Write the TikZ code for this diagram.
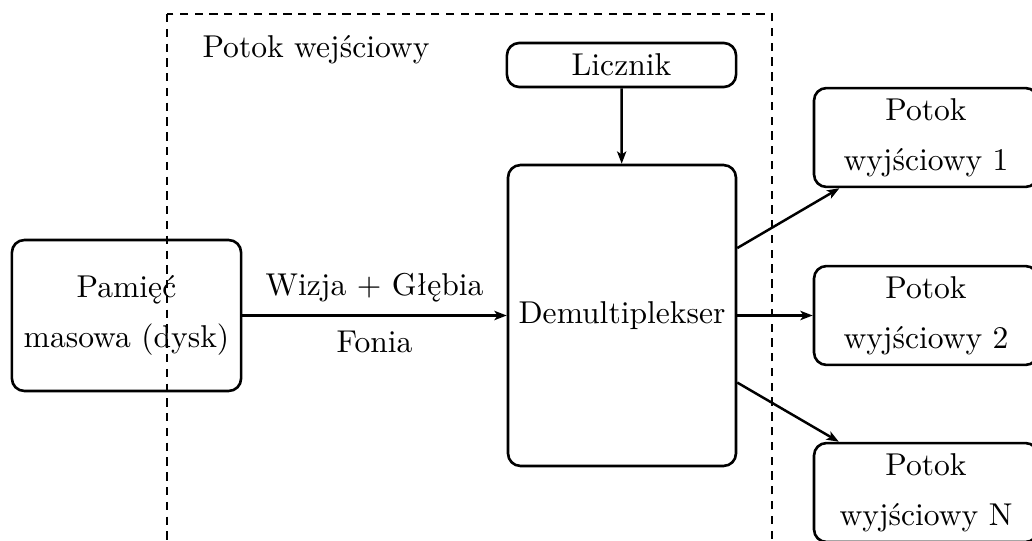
\documentclass[tikz,border=0pt]{standalone}
\usepackage{fontspec}
\usetikzlibrary{arrows.meta}
\begin{document}
\begin{tikzpicture}[x=0.3247pt,y=-0.3247pt,
  font=\fontsize{10.25pt}{12.3pt}\selectfont,
  box/.style={draw, line width=0.85pt, rounded corners=4pt, align=center, inner sep=0pt},
  conn/.style={thick, -{Stealth[length=4pt,width=3pt,inset=1pt]}}]
\useasboundingbox (0,0) rectangle (1032,541);

% input stream frame
\draw[line width=0.75pt, dash pattern=on 2.7pt off 2.1pt] (167,14) rectangle (772,580);
\node (instream) at (316,50) {Potok wejściowy};

% blocks
\node[box, minimum width=74.4pt, minimum height=49pt] (mem) at (126.5,315.5)
  {Pamięć\\[4pt]masowa (dysk)};
\node[box, minimum width=74pt, minimum height=97.7pt] (demux) at (622,315.5)
  {Demultiplekser};
\node[box, minimum width=74.4pt, minimum height=14.3pt] (cnt) at (621.5,65)
  {Licznik};
\node[box, minimum width=72.7pt, minimum height=32.1pt] (out1) at (926,137.5)
  {Potok\\[4pt]wyjściowy 1};
\node[box, minimum width=72.7pt, minimum height=32.1pt] (out2) at (926,315.5)
  {Potok\\[4pt]wyjściowy 2};
\node[box, minimum width=72.7pt, minimum height=32.1pt] (outN) at (926,492.5)
  {Potok\\[4pt]wyjściowy N};

% connections
\draw[conn] (mem) -- node[midway, yshift=9pt]{Wizja + Głębia}
                     node[midway, yshift=-8.5pt]{Fonia} (demux);
\draw[conn] (cnt) -- (demux);
\draw[conn] (demux) -- (out1);
\draw[conn] (demux) -- (out2);
\draw[conn] (demux) -- (outN);
\end{tikzpicture}
\end{document}
